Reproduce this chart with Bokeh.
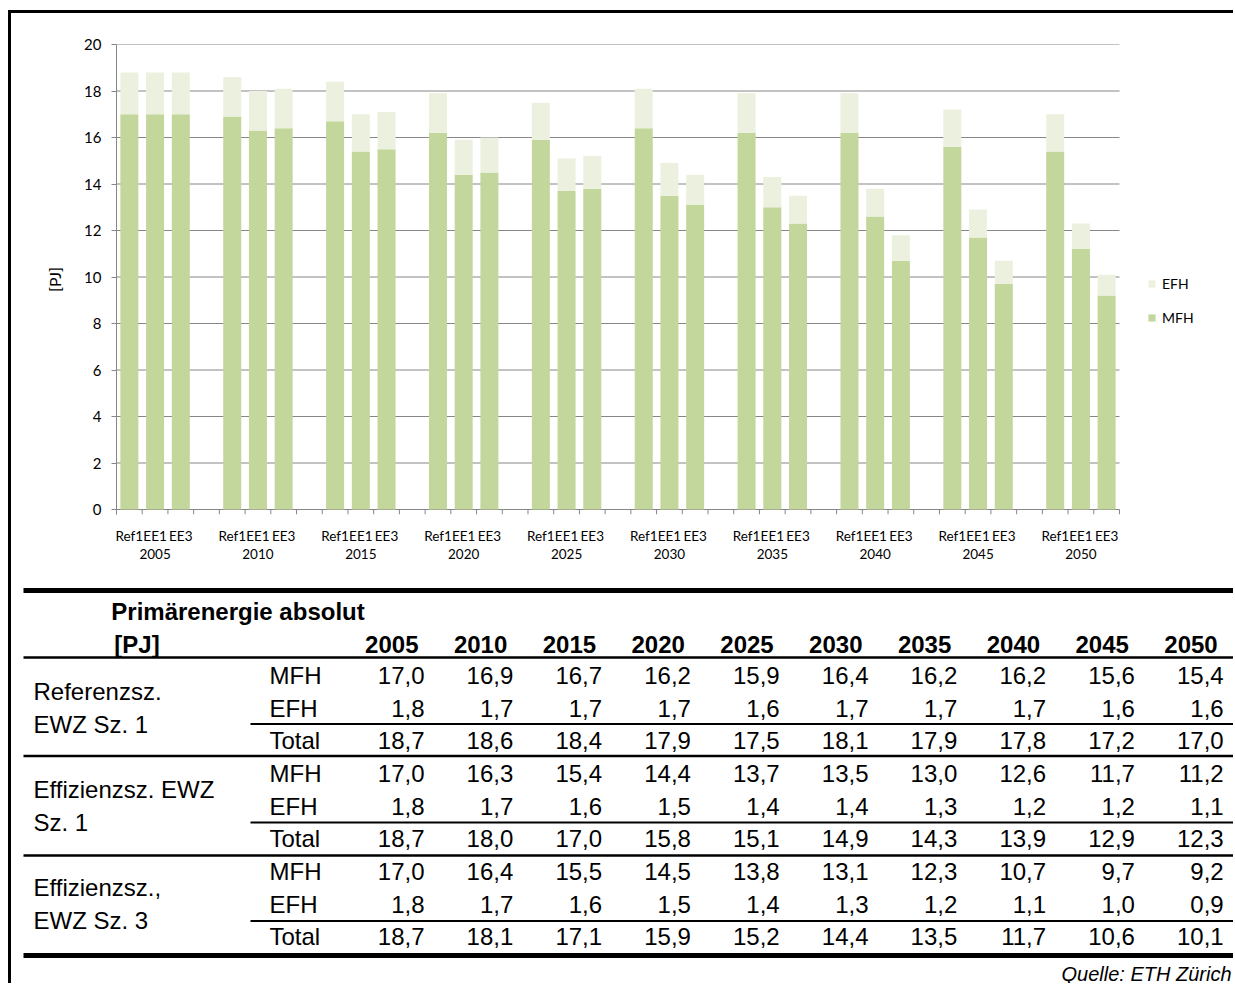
from bokeh.plotting import figure
from bokeh.models import (Range1d, LinearAxis, FixedTicker, SingleIntervalTicker,
                          Legend, LegendItem, ColumnDataSource)
from bokeh.layouts import column
from bokeh.embed import file_html
from bokeh.resources import INLINE
from bokeh.core.properties import value

# ---------------- data ----------------
years = ["2005", "2010", "2015", "2020", "2025", "2030", "2035", "2040", "2045", "2050"]
scenarios = ["Ref1", "EE1", "EE3"]

mfh_ref = [17.0, 16.9, 16.7, 16.2, 15.9, 16.4, 16.2, 16.2, 15.6, 15.4]
efh_ref = [1.8, 1.7, 1.7, 1.7, 1.6, 1.7, 1.7, 1.7, 1.6, 1.6]
tot_ref = [18.7, 18.6, 18.4, 17.9, 17.5, 18.1, 17.9, 17.8, 17.2, 17.0]

mfh_ee1 = [17.0, 16.3, 15.4, 14.4, 13.7, 13.5, 13.0, 12.6, 11.7, 11.2]
efh_ee1 = [1.8, 1.7, 1.6, 1.5, 1.4, 1.4, 1.3, 1.2, 1.2, 1.1]
tot_ee1 = [18.7, 18.0, 17.0, 15.8, 15.1, 14.9, 14.3, 13.9, 12.9, 12.3]

mfh_ee3 = [17.0, 16.4, 15.5, 14.5, 13.8, 13.1, 12.3, 10.7, 9.7, 9.2]
efh_ee3 = [1.8, 1.7, 1.6, 1.5, 1.4, 1.3, 1.2, 1.1, 1.0, 0.9]
tot_ee3 = [18.7, 18.1, 17.1, 15.9, 15.2, 14.4, 13.5, 11.7, 10.6, 10.1]

y_ticks = [0, 2, 4, 6, 8, 10, 12, 14, 16, 18, 20]

table_title = ["Primärenergie absolut", "[PJ]"]
group_labels = [["Referenzsz.", "EWZ Sz. 1"],
                ["Effizienzsz. EWZ", "Sz. 1"],
                ["Effizienzsz.,", "EWZ Sz. 3"]]
row_labels = ["MFH", "EFH", "Total"]
source_note = "Quelle: ETH Zürich"

# ---------------- styles / layout ----------------
GRAY = "#868686"
C_MFH = "#C3D69B"
C_EFH = "#EBF1DE"
CHART_FONT = "Lato"
TABLE_FONT = "Liberation Sans"

W = 1222
CH = 569
TH = 401
Y_LOW = -0.215          # room below zero for the category tick marks
PLOT_L, PLOT_R = 105, 1108   # pixel extent of the category area
FRAME_R = W - 4              # frame extended to the right to hold the legend

# ---------------- chart ----------------
mfh_all = [mfh_ref, mfh_ee1, mfh_ee3]
efh_all = [efh_ref, efh_ee1, efh_ee3]

xs, mfh, tot = [], [], []
for i in range(len(years)):
    for j in range(len(scenarios)):
        xs.append(4 * i + j)
        mfh.append(mfh_all[j][i])
        tot.append(mfh_all[j][i] + efh_all[j][i])
src = ColumnDataSource(dict(x=xs, mfh=mfh, tot=tot))

n_slots = 4 * len(years) - 1
px_per_slot = (PLOT_R - PLOT_L) / n_slots
x_start = -0.5
x_end = x_start + (FRAME_R - PLOT_L) / px_per_slot
x_last = n_slots - 0.5

p = figure(width=W, height=CH, x_range=Range1d(x_start, x_end), y_range=Range1d(Y_LOW, 20),
           output_backend="svg", toolbar_location=None, x_axis_location=None,
           min_border_left=PLOT_L, min_border_right=W - FRAME_R, min_border_top=31,
           min_border_bottom=68)
p.outline_line_color = None
p.grid.visible = False

# horizontal gridlines limited to the category area
p.segment(x0=[x_start] * len(y_ticks), y0=y_ticks, x1=[x_last] * len(y_ticks), y1=y_ticks,
          line_color=GRAY, line_width=1)

# category boundary tick marks below the zero line
bounds = [k - 0.5 for k in range(n_slots + 1)]
p.segment(x0=bounds, y0=[0] * len(bounds), x1=bounds, y1=[Y_LOW] * len(bounds),
          line_color=GRAY, line_width=1)

r_mfh = p.vbar(x="x", bottom=0, top="mfh", width=0.7, source=src,
               fill_color=C_MFH, line_color=None)
r_efh = p.vbar(x="x", bottom="mfh", top="tot", width=0.7, source=src,
               fill_color=C_EFH, line_color=None)

p.yaxis.ticker = FixedTicker(ticks=y_ticks)
p.yaxis.axis_line_color = GRAY
p.yaxis.major_tick_line_color = GRAY
p.yaxis.minor_tick_line_color = None
p.yaxis.major_tick_out = 5
p.yaxis.major_tick_in = 0
p.yaxis.major_label_text_font = CHART_FONT
p.yaxis.major_label_text_font_size = "15px"
p.yaxis.major_label_text_color = "black"
p.yaxis.major_label_standoff = 10
p.yaxis.axis_label = "[PJ]"
p.yaxis.axis_label_text_font = CHART_FONT
p.yaxis.axis_label_text_font_size = "16px"
p.yaxis.axis_label_text_font_style = "normal"
p.yaxis.axis_label_text_color = "black"
p.yaxis.axis_label_standoff = 17

sub_over = {4 * i + j: scenarios[j] for i in range(len(years)) for j in range(len(scenarios))}
ax_sub = LinearAxis(ticker=FixedTicker(ticks=sorted(sub_over.keys())),
                    major_label_overrides=sub_over,
                    axis_line_color=None, major_tick_line_color=None,
                    minor_tick_line_color=None, major_tick_out=0, major_tick_in=0,
                    major_label_standoff=13, major_label_text_font=CHART_FONT,
                    major_label_text_font_size="13.5px", major_label_text_color="black")
p.add_layout(ax_sub, "below")

year_over = {4 * i + 1: years[i] for i in range(len(years))}
ax_year = LinearAxis(ticker=FixedTicker(ticks=sorted(year_over.keys())),
                     major_label_overrides=year_over,
                     axis_line_color=None, major_tick_line_color=None,
                     minor_tick_line_color=None, major_tick_out=0, major_tick_in=0,
                     major_label_standoff=2, major_label_text_font=CHART_FONT,
                     major_label_text_font_size="13.5px", major_label_text_color="black")
p.add_layout(ax_year, "below")

legend = Legend(items=[LegendItem(label="EFH", renderers=[r_efh]),
                       LegendItem(label="MFH", renderers=[r_mfh])],
                location=(1136 - PLOT_L, 187), orientation="vertical", padding=0, margin=0,
                spacing=14, glyph_width=9, glyph_height=9, label_standoff=6,
                label_height=20, label_text_font=CHART_FONT, label_text_font_size="14px",
                label_text_color="black", border_line_color=None, background_fill_alpha=0)
p.add_layout(legend)

# ---------------- table ----------------
t = figure(width=W, height=TH, x_range=Range1d(0, W), y_range=Range1d(TH, 0),
           output_backend="svg", toolbar_location=None,
           x_axis_location=None, y_axis_location=None, min_border=0)
t.grid.visible = False
t.outline_line_color = None

X_LEFT = 12
X_RIGHT = W
t.segment(x0=[X_LEFT], y0=[8], x1=[X_RIGHT], y1=[8], line_width=5, line_color="black")
t.segment(x0=[X_LEFT], y0=[75], x1=[X_RIGHT], y1=[75], line_width=2.5, line_color="black")
sub_y = [141.5 + g * 98.5 for g in range(3)]
t.segment(x0=[239] * 3, y0=sub_y, x1=[X_RIGHT] * 3, y1=sub_y, line_width=2, line_color="black")
sep_y = [173.5 + g * 99.5 for g in range(2)]
t.segment(x0=[X_LEFT] * 2, y0=sep_y, x1=[X_RIGHT] * 2, y1=sep_y, line_width=2.5, line_color="black")
t.segment(x0=[X_LEFT], y0=[373], x1=[X_RIGHT], y1=[373], line_width=5, line_color="black")

FS = "24px"
t.text(x=[226.5], y=[29], text=[table_title[0]], text_font=value(TABLE_FONT),
       text_font_size=FS, text_font_style="bold", text_align="center", text_baseline="middle")
t.text(x=[125.5], y=[61.5], text=[table_title[1]], text_font=value(TABLE_FONT),
       text_font_size=FS, text_font_style="bold", text_align="center", text_baseline="middle")

col_right = [413 + i * 88.8 for i in range(len(years))]
t.text(x=[c - 6 for c in col_right], y=[61.5] * len(years), text=years,
       text_font=value(TABLE_FONT), text_font_size=FS, text_font_style="bold",
       text_align="right", text_baseline="middle")

groups = [[mfh_ref, efh_ref, tot_ref], [mfh_ee1, efh_ee1, tot_ee1], [mfh_ee3, efh_ee3, tot_ee3]]
lx, ly, lt = [], [], []
rx, ry, rt = [], [], []
nx, ny, nt = [], [], []
for g, rows in enumerate(groups):
    base = 93 + g * 98
    lx += [22, 22]
    ly += [base + 16.25, base + 48.75]
    lt += group_labels[g]
    for r, vals in enumerate(rows):
        yy = base + r * 32.5
        rx.append(258); ry.append(yy); rt.append(row_labels[r])
        for i, v in enumerate(vals):
            nx.append(col_right[i]); ny.append(yy)
            nt.append(f"{v:.1f}".replace(".", ","))

t.text(x=lx, y=ly, text=lt, text_font=value(TABLE_FONT), text_font_size=FS,
       text_align="left", text_baseline="middle")
t.text(x=rx, y=ry, text=rt, text_font=value(TABLE_FONT), text_font_size=FS,
       text_align="left", text_baseline="middle")
t.text(x=nx, y=ny, text=nt, text_font=value(TABLE_FONT), text_font_size=FS,
       text_align="right", text_baseline="middle")

t.text(x=[1220], y=[391], text=[source_note], text_font=value(TABLE_FONT),
       text_font_size="20px", text_font_style="italic", text_align="right",
       text_baseline="middle")

top = column(p, styles={"border-left": "3px solid black", "border-top": "3px solid black"},
             margin=(10, 0, 0, 8))
bottom = column(t, styles={"border-left": "3px solid black"}, margin=(0, 0, 0, 8))

open("out.html", "w").write(file_html([top, bottom], INLINE))
